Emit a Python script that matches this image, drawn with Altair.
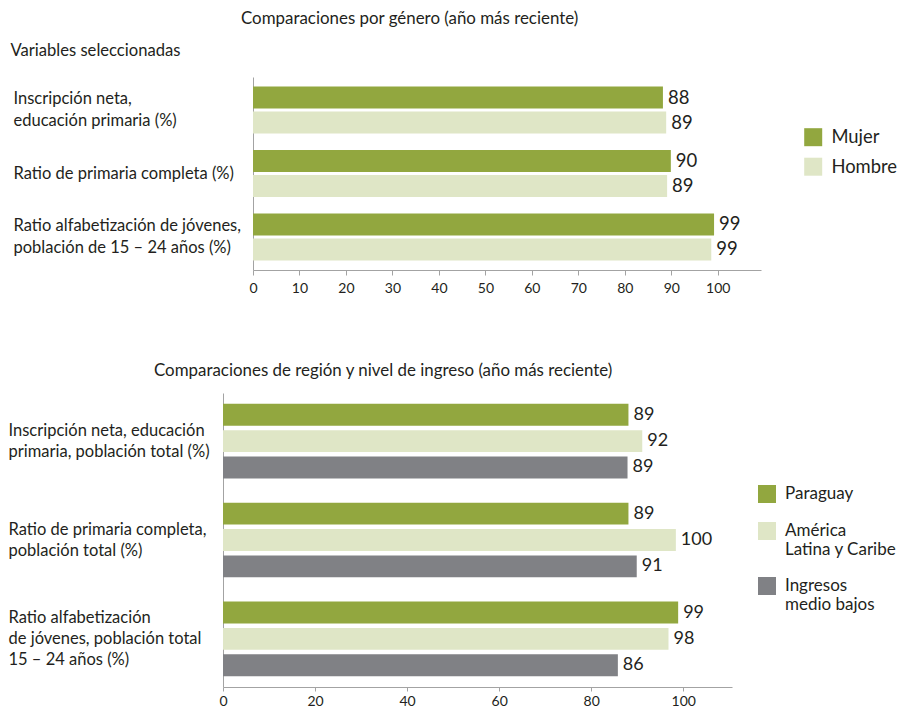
import json
from collections import Counter
import altair as alt
import pandas as pd

FONT = "Lato"
TEXT = "#231f20"
AXIS = "#a3a3a3"
GREEN = "#92a73f"
LIGHT = "#dfe6c6"
GRAY = "#808185"

# ---------------- top panel data ----------------
top_title = "Comparaciones por género (año más reciente)"
top_axis_title = "Variables seleccionadas"
top_categories = [
    "Inscripción neta, educación primaria (%)",
    "Ratio de primaria completa (%)",
    "Ratio alfabetización de jóvenes, población de 15 – 24 años (%)",
]
top_category_lines = [
    ["Inscripción neta,", "educación primaria (%)"],
    ["Ratio de primaria completa (%)"],
    ["Ratio alfabetización de jóvenes,", "población de 15 – 24 años (%)"],
]
top_series = ["Mujer", "Hombre"]
top_mujer = [88.2, 89.9, 99.2]
top_hombre = [88.9, 89.1, 98.6]
top_mujer_labels = ["88", "90", "99"]
top_hombre_labels = ["89", "89", "99"]
top_ticks = [0, 10, 20, 30, 40, 50, 60, 70, 80, 90, 100]

# ---------------- bottom panel data ----------------
bottom_title = "Comparaciones de región y nivel de ingreso (año más reciente)"
bottom_categories = [
    "Inscripción neta, educación primaria, población total (%)",
    "Ratio de primaria completa, población total (%)",
    "Ratio alfabetización de jóvenes, población total 15 – 24 años (%)",
]
bottom_category_lines = [
    ["Inscripción neta, educación", "primaria, población total (%)"],
    ["Ratio de primaria completa,", "población total (%)"],
    ["Ratio alfabetización", "de jóvenes, población total", "15 – 24 años (%)"],
]
bottom_series = ["Paraguay", "América Latina y Caribe", "Ingresos medio bajos"]
bottom_legend_lines = [
    ["Paraguay"],
    ["América", "Latina y Caribe"],
    ["Ingresos", "medio bajos"],
]
bottom_paraguay = [88.1, 88.1, 98.9]
bottom_lac = [91.1, 98.4, 96.8]
bottom_ingresos = [87.9, 89.9, 85.8]
bottom_paraguay_labels = ["89", "89", "99"]
bottom_lac_labels = ["92", "100", "98"]
bottom_ingresos_labels = ["89", "91", "86"]
bottom_ticks = [0, 20, 40, 60, 80, 100]


def js(v):
    return json.dumps(v, ensure_ascii=False)


def lines_expr(field, keys, lines):
    expr = field
    for k, l in reversed(list(zip(keys, lines))):
        expr = f"{field} === {js(k)} ? {js(l)} : ({expr})"
    return expr


def center_offset(keys, lines, lh):
    # shift multi-line labels up so that each block is centred on its band
    offs = {k: -(len(l) - 1) * lh / 2 for k, l in zip(keys, lines)}
    common = Counter(offs.values()).most_common(1)[0][0]
    others = [k for k in keys if offs[k] != common]
    if not others:
        return common
    val = offs[others[0]]
    return {"condition": {"test": f"indexof({js(others)}, datum.value) >= 0", "value": val},
            "value": common}


top_rows = []
for i, c in enumerate(top_categories):
    top_rows.append({"cat": c, "sexo": "Mujer", "value": top_mujer[i], "label": top_mujer_labels[i]})
    top_rows.append({"cat": c, "sexo": "Hombre", "value": top_hombre[i], "label": top_hombre_labels[i]})
top_df = pd.DataFrame(top_rows)

bottom_rows = []
for i, c in enumerate(bottom_categories):
    for s, vals, labs in zip(bottom_series,
                             [bottom_paraguay, bottom_lac, bottom_ingresos],
                             [bottom_paraguay_labels, bottom_lac_labels, bottom_ingresos_labels]):
        bottom_rows.append({"cat": c, "grupo": s, "value": vals[i], "label": labs[i]})
bottom_df = pd.DataFrame(bottom_rows)

# ---------------- top chart ----------------
# both panels share the same left plot edge; the top panel's axis starts 30px further right
TOP_SHIFT = 30
TOP_W = 538
TOP_LH = 22
top_x = alt.X("value:Q",
              scale=alt.Scale(domain=[0, 109.3], nice=False, zero=True, range=[TOP_SHIFT, TOP_W]),
              axis=alt.Axis(values=top_ticks, title=None, grid=False, domainColor=AXIS,
                            tickColor=AXIS, tickSize=5, labelFontSize=14, labelFont=FONT,
                            labelColor=TEXT, labelPadding=6, labelFlush=False))
top_y = alt.Y("cat:N", sort=top_categories,
              scale=alt.Scale(type="band", paddingInner=0.26, paddingOuter=0.15),
              axis=alt.Axis(offset=-TOP_SHIFT,
                            title=top_axis_title, titleAngle=0, titleAlign="left",
                            titleBaseline="middle", titleX=-243, titleY=-27, titleFont=FONT,
                            titleFontSize=16.6, titleFontWeight="normal", titleColor=TEXT,
                            labelAlign="left", labelPadding=240, labelFontSize=16.5,
                            labelLineHeight=TOP_LH, labelFont=FONT, labelColor=TEXT, labelLimit=400,
                            labelExpr=lines_expr("datum.value", top_categories, top_category_lines),
                            labelOffset=center_offset(top_categories, top_category_lines, TOP_LH),
                            ticks=False, domainColor=AXIS, grid=False))
top_yoff = alt.YOffset("sexo:N", sort=top_series,
                       scale=alt.Scale(type="band", paddingInner=0.12, paddingOuter=0))

top_bars = alt.Chart(top_df).mark_bar().encode(
    x=top_x, y=top_y, yOffset=top_yoff,
    color=alt.Color("sexo:N", scale=alt.Scale(domain=top_series, range=[GREEN, LIGHT]),
                    legend=alt.Legend(orient="none", legendX=581, legendY=51, title=None,
                                      symbolType="square", symbolSize=324, symbolStrokeWidth=0,
                                      labelFontSize=18.4, labelFont=FONT, labelColor=TEXT,
                                      labelOffset=9, rowPadding=10.5, padding=0)),
)
top_text = alt.Chart(top_df).mark_text(align="left", baseline="middle", dx=5, font=FONT,
                                       fontSize=18.5, color=TEXT).encode(
    x=top_x, y=top_y, yOffset=top_yoff, text="label:N")

top = alt.layer(top_bars, top_text).properties(
    width=TOP_W, height=193,
    title=alt.TitleParams(top_title, anchor="start", frame="group", dx=18, fontSize=16.9,
                          font=FONT, fontWeight="normal", color=TEXT, offset=14))

# ---------------- bottom chart ----------------
BOT_LH = 21
bot_x = alt.X("value:Q",
              scale=alt.Scale(domain=[0, 110.6], nice=False, zero=True),
              axis=alt.Axis(values=bottom_ticks, title=None, grid=False, domainColor=AXIS,
                            tickColor=AXIS, tickSize=4, labelFontSize=14, labelFont=FONT,
                            labelColor=TEXT, labelPadding=3, labelFlush=False))
bot_y = alt.Y("cat:N", sort=bottom_categories,
              scale=alt.Scale(type="band", paddingInner=0.246, paddingOuter=0.11),
              axis=alt.Axis(title=None, labelAlign="left", labelPadding=215, labelFontSize=16.5,
                            labelLineHeight=BOT_LH, labelFont=FONT, labelColor=TEXT, labelLimit=400,
                            labelExpr=lines_expr("datum.value", bottom_categories, bottom_category_lines),
                            labelOffset=center_offset(bottom_categories, bottom_category_lines, BOT_LH),
                            ticks=False, domainColor=AXIS, grid=False))
bot_yoff = alt.YOffset("grupo:N", sort=bottom_series,
                       scale=alt.Scale(type="band", paddingInner=0.17, paddingOuter=0))

bot_bars = alt.Chart(bottom_df).mark_bar().encode(
    x=bot_x, y=bot_y, yOffset=bot_yoff,
    color=alt.Color("grupo:N", scale=alt.Scale(domain=bottom_series, range=[GREEN, LIGHT, GRAY]),
                    legend=alt.Legend(orient="none", legendX=535, legendY=92, title=None,
                                      symbolType="square", symbolSize=324, symbolStrokeWidth=0,
                                      labelFontSize=17, labelFont=FONT, labelColor=TEXT,
                                      labelOffset=9, rowPadding=19, padding=0, labelLimit=300,
                                      labelExpr=lines_expr("datum.label", bottom_series, bottom_legend_lines))),
)
bot_text = alt.Chart(bottom_df).mark_text(align="left", baseline="middle", dx=5, font=FONT,
                                          fontSize=18, color=TEXT).encode(
    x=bot_x, y=bot_y, yOffset=bot_yoff, text="label:N")

bottom = alt.layer(bot_bars, bot_text).properties(
    width=509, height=294,
    title=alt.TitleParams(bottom_title, anchor="start", frame="group", dx=-69, fontSize=16.9,
                          font=FONT, fontWeight="normal", color=TEXT, offset=13))

chart = alt.vconcat(top, bottom, spacing=67).resolve_scale(
    color="independent", yOffset="independent").resolve_legend(color="independent").properties(
    padding={"left": 0, "top": 2, "right": 0, "bottom": 0}
).configure_view(stroke=None)

chart.save("out.html", embed_options={"renderer": "svg", "actions": False})
